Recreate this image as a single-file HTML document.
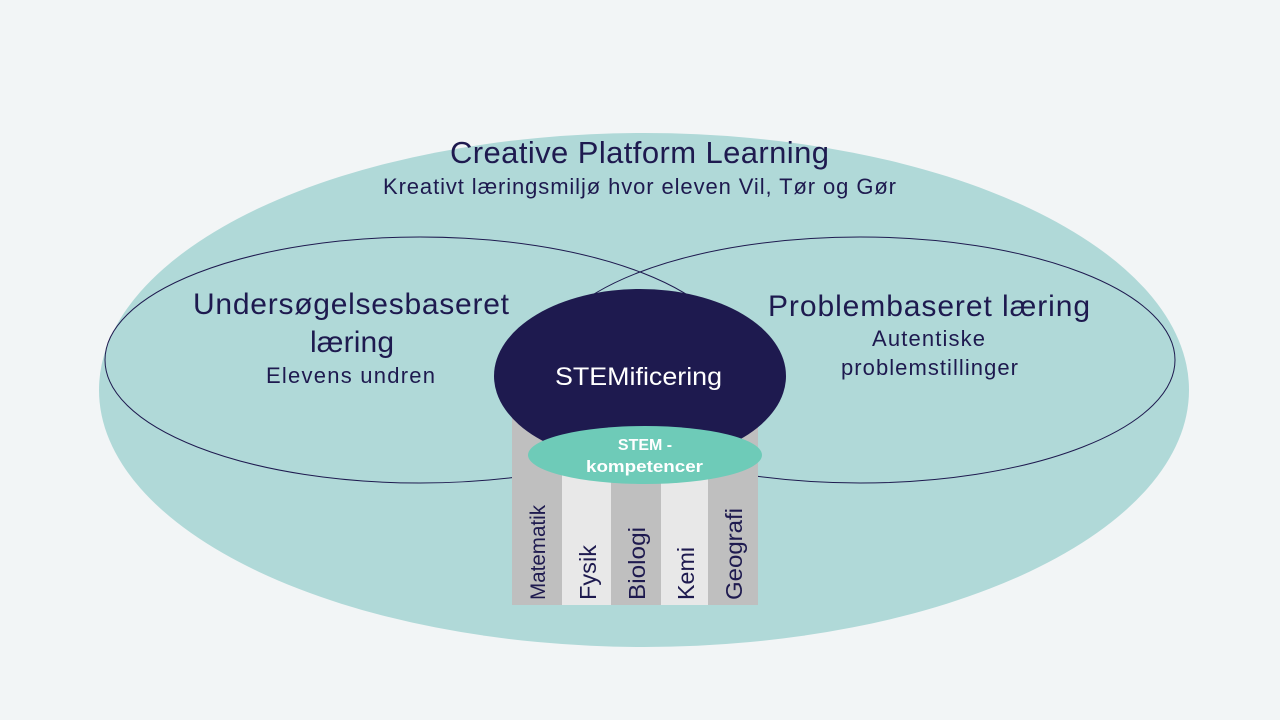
<!DOCTYPE html>
<html><head><meta charset="utf-8"><style>
body{margin:0;background:#f2f5f6;}
svg{display:block;font-family:"Liberation Sans",sans-serif;}
</style></head><body>
<svg width="1280" height="720" viewBox="0 0 1280 720">
<rect width="1280" height="720" fill="#f2f5f6"/>
<ellipse cx="644" cy="390" rx="545" ry="257" fill="#b0d9d8"/>
<ellipse cx="420" cy="360" rx="315" ry="123" fill="none" stroke="#1e1a4f" stroke-width="1"/>
<ellipse cx="860" cy="360" rx="315" ry="123" fill="none" stroke="#1e1a4f" stroke-width="1"/>
<rect x="512" y="410" width="50" height="195" fill="#bfbfbf"/>
<rect x="562" y="410" width="49" height="195" fill="#e8e8e8"/>
<rect x="611" y="410" width="50" height="195" fill="#bfbfbf"/>
<rect x="661" y="410" width="47" height="195" fill="#e8e8e8"/>
<rect x="708" y="410" width="50" height="195" fill="#bfbfbf"/>
<ellipse cx="640" cy="376" rx="146" ry="87" fill="#1e1a4f"/>
<ellipse cx="645" cy="455" rx="117" ry="29" fill="#6ecbb8"/>
<g fill="#1e1a4f" lengthAdjust="spacingAndGlyphs">
<text x="450" y="163" font-size="31" textLength="379">Creative Platform Learning</text>
<text x="383" y="194" font-size="22" textLength="513">Kreativt læringsmiljø hvor eleven Vil, Tør og Gør</text>
<text x="193" y="314" font-size="30" textLength="316">Undersøgelsesbaseret</text>
<text x="310" y="352" font-size="30" textLength="84">læring</text>
<text x="266" y="383" font-size="22" textLength="169">Elevens undren</text>
<text x="768" y="316" font-size="30" textLength="322">Problembaseret læring</text>
<text x="872" y="346" font-size="22" textLength="113">Autentiske</text>
<text x="841" y="375" font-size="22" textLength="177">problemstillinger</text>
</g>
<text x="555" y="385" font-size="25" fill="#fff" textLength="167" lengthAdjust="spacingAndGlyphs">STEMificering</text>
<text x="645" y="450" font-size="16" font-weight="bold" fill="#fff" text-anchor="middle">STEM -</text>
<text x="586" y="472" font-size="17" font-weight="bold" fill="#fff" textLength="117" lengthAdjust="spacingAndGlyphs">kompetencer</text>
<g fill="#1e1a4f" font-size="21" lengthAdjust="spacingAndGlyphs">
<text transform="translate(545,600) rotate(-90)" textLength="95" lengthAdjust="spacingAndGlyphs">Matematik</text>
<text transform="translate(596,600) rotate(-90)" textLength="55" lengthAdjust="spacingAndGlyphs" font-size="23">Fysik</text>
<text transform="translate(645,600) rotate(-90)" textLength="73" lengthAdjust="spacingAndGlyphs" font-size="23">Biologi</text>
<text transform="translate(694,600) rotate(-90)" textLength="53" lengthAdjust="spacingAndGlyphs" font-size="23">Kemi</text>
<text transform="translate(742,600) rotate(-90)" textLength="92" lengthAdjust="spacingAndGlyphs" font-size="23">Geografi</text>
</g>
</svg>
</body></html>
